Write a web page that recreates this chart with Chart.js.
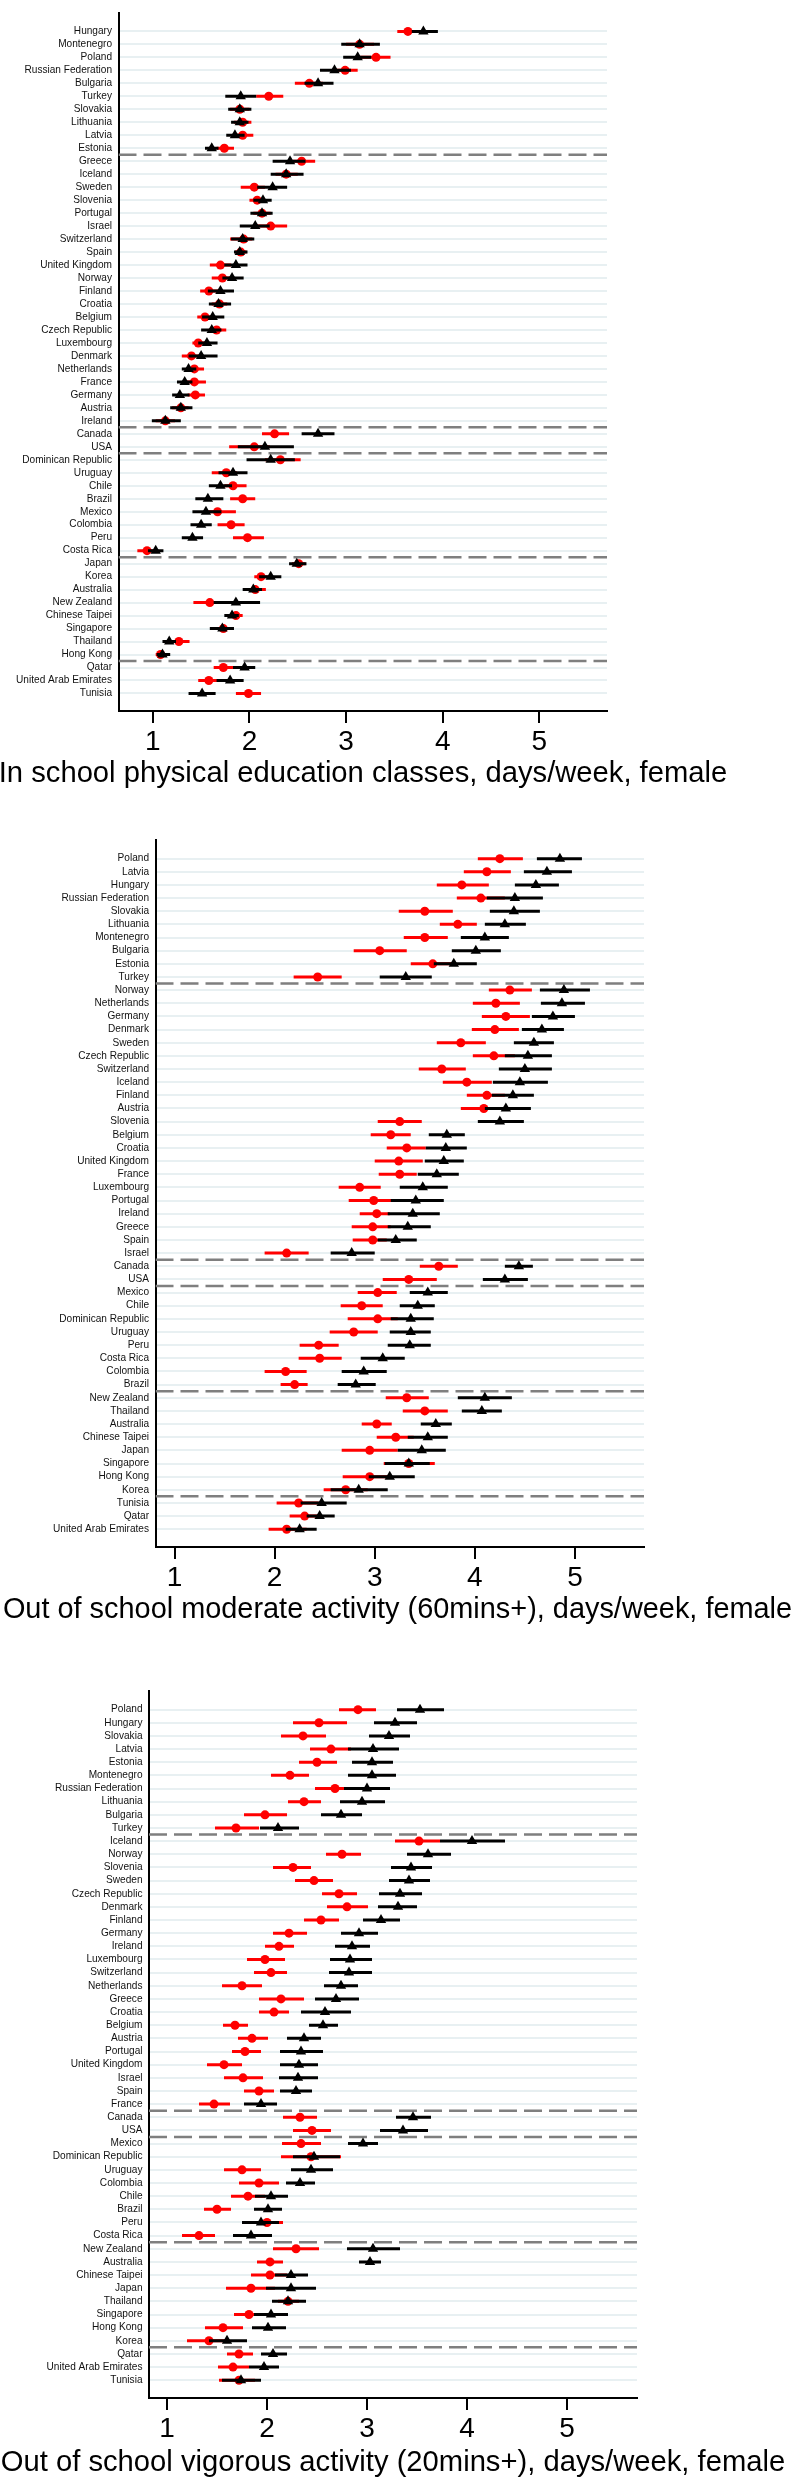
<!DOCTYPE html>
<html>
<head>
<meta charset="utf-8">
<title>Physical activity by country, female</title>
<script src="https://cdn.jsdelivr.net/npm/chart.js@4"></script>
<style>
  body { margin: 0; background: #fff; width: 795px; height: 2481px; position: relative; overflow: hidden; font-family: 'Liberation Sans', Arial, sans-serif; }
  canvas { position: absolute; left: 0; }
  .axis-title { position: absolute; width: 900px; text-align: center; white-space: nowrap; font-size: 29.2px; line-height: 34px; color: #000; }
</style>
</head>
<body>
<canvas id="peChart" width="795" height="771" style="top:0px"></canvas>
<div class="axis-title" style="top:755px; left:-87px">In school physical education classes, days/week, female</div>

<canvas id="moderateChart" width="795" height="780" style="top:827px"></canvas>
<div class="axis-title" style="top:1591px; left:-52.5px; font-size:28.9px">Out of school moderate activity (60mins+), days/week, female</div>

<canvas id="vigorousChart" width="795" height="780" style="top:1678px"></canvas>
<div class="axis-title" style="top:2444px; left:-57px">Out of school vigorous activity (20mins+), days/week, female</div>

<script>
// Region blocks (same in every panel), separated by dashed lines
const groupSizes = [10, 21, 2, 8, 8, 3];
const xTicks = [1, 2, 3, 4, 5];

// Panel 1 - in school PE
const p1Countries = ['Hungary','Montenegro','Poland','Russian Federation','Bulgaria','Turkey','Slovakia','Lithuania','Latvia','Estonia',
  'Greece','Iceland','Sweden','Slovenia','Portugal','Israel','Switzerland','Spain','United Kingdom','Norway','Finland','Croatia','Belgium',
  'Czech Republic','Luxembourg','Denmark','Netherlands','France','Germany','Austria','Ireland','Canada','USA','Dominican Republic','Uruguay',
  'Chile','Brazil','Mexico','Colombia','Peru','Costa Rica','Japan','Korea','Australia','New Zealand','Chinese Taipei','Singapore','Thailand',
  'Hong Kong','Qatar','United Arab Emirates','Tunisia'];
const p1Red = [3.64,3.14,3.31,2.99,2.62,2.20,1.90,1.93,1.93,1.74, 2.54,2.38,2.05,2.08,2.13,2.22,1.94,1.91,1.70,1.72,
  1.58,1.69,1.54,1.66,1.47,1.40,1.43,1.43,1.44,1.29, 1.13,2.26,2.05,2.32,1.76,1.83,1.93,1.67,1.81,1.98,
  0.94,2.51,2.12,2.06,1.59,1.86,1.73,1.27,1.08,1.73, 1.58,1.99];
const p1RedLo = [3.53,3.00,3.15,2.87,2.47,2.07,1.80,1.84,1.84,1.66, 2.45,2.27,1.91,2.00,2.04,2.08,1.80,1.85,1.59,1.61,
  1.49,1.61,1.46,1.58,1.41,1.30,1.35,1.33,1.36,1.20, 1.03,2.13,1.79,2.16,1.61,1.74,1.80,1.58,1.67,1.83,
  0.84,2.44,2.05,1.97,1.42,1.76,1.64,1.18,1.03,1.63, 1.47,1.86];
const p1RedHi = [3.76,3.29,3.46,3.12,2.76,2.35,2.00,2.02,2.04,1.84, 2.68,2.50,2.16,2.16,2.22,2.39,2.03,1.97,1.81,1.82,
  1.68,1.77,1.63,1.76,1.55,1.50,1.53,1.55,1.54,1.37, 1.23,2.41,2.21,2.53,1.87,1.97,2.06,1.86,1.95,2.15,
  1.02,2.58,2.19,2.17,1.79,1.93,1.81,1.38,1.14,1.84, 1.68,2.12];
const p1Black = [3.80,3.14,3.12,2.88,2.71,1.91,1.90,1.90,1.85,1.61, 2.42,2.38,2.24,2.14,2.13,2.06,1.93,1.90,1.86,1.82,
  1.70,1.68,1.62,1.61,1.56,1.50,1.37,1.33,1.28,1.29, 1.13,2.71,2.16,2.22,1.83,1.70,1.57,1.55,1.50,1.41,
  1.03,2.49,2.22,2.04,1.86,1.82,1.72,1.17,1.10,1.95, 1.80,1.51];
const p1BlackLo = [3.68,2.95,2.97,2.73,2.57,1.75,1.78,1.81,1.76,1.54, 2.24,2.22,2.08,2.04,2.01,1.90,1.81,1.84,1.74,1.72,
  1.57,1.58,1.51,1.50,1.47,1.37,1.30,1.25,1.20,1.18, 0.99,2.54,1.88,1.97,1.68,1.58,1.44,1.41,1.39,1.30,
  0.95,2.41,2.10,1.93,1.63,1.74,1.59,1.10,1.04,1.83, 1.66,1.37];
const p1BlackHi = [3.95,3.35,3.26,3.05,2.87,2.07,2.02,1.99,1.95,1.68, 2.58,2.56,2.39,2.23,2.24,2.21,2.05,1.98,1.98,1.94,
  1.84,1.81,1.74,1.71,1.67,1.67,1.45,1.41,1.38,1.41, 1.29,2.88,2.46,2.47,1.98,1.82,1.73,1.71,1.61,1.52,
  1.11,2.59,2.33,2.13,2.11,1.89,1.84,1.24,1.18,2.06, 1.94,1.65];

// Panel 2 - out of school moderate activity
const p2Countries = ['Poland','Latvia','Hungary','Russian Federation','Slovakia','Lithuania','Montenegro','Bulgaria','Estonia','Turkey',
  'Norway','Netherlands','Germany','Denmark','Sweden','Czech Republic','Switzerland','Iceland','Finland','Austria','Slovenia','Belgium',
  'Croatia','United Kingdom','France','Luxembourg','Portugal','Ireland','Greece','Spain','Israel','Canada','USA','Mexico','Chile',
  'Dominican Republic','Uruguay','Peru','Costa Rica','Colombia','Brazil','New Zealand','Thailand','Australia','Chinese Taipei','Japan',
  'Singapore','Hong Kong','Korea','Tunisia','Qatar','United Arab Emirates'];
const p2Red = [4.25,4.12,3.87,4.06,3.50,3.83,3.50,3.05,3.58,2.43, 4.35,4.21,4.31,4.20,3.86,4.19,3.67,3.92,4.12,4.09,
  3.25,3.16,3.32,3.24,3.25,2.85,2.99,3.02,2.98,2.98, 2.12,3.64,3.34,3.03,2.87,3.03,2.79,2.44,2.45,2.11,
  2.20,3.32,3.50,3.02,3.21,2.95,3.34,2.95,2.71,2.24, 2.30,2.12];
const p2RedLo = [4.03,3.89,3.62,3.82,3.24,3.65,3.29,2.79,3.36,2.19, 4.14,3.98,4.07,3.97,3.62,3.98,3.44,3.68,3.92,3.86,
  3.03,2.96,3.12,3.00,3.04,2.64,2.74,2.85,2.77,2.78, 1.90,3.45,3.08,2.83,2.66,2.73,2.55,2.25,2.24,1.90,
  2.06,3.11,3.28,2.87,3.02,2.67,3.09,2.68,2.49,2.02, 2.15,1.94];
const p2RedHi = [4.48,4.36,4.14,4.30,3.78,4.02,3.73,3.32,3.78,2.67, 4.57,4.45,4.55,4.44,4.11,4.40,3.91,4.17,4.30,4.30,
  3.47,3.36,3.51,3.48,3.42,3.06,3.18,3.15,3.16,3.12, 2.34,3.83,3.62,3.22,3.08,3.23,3.03,2.64,2.67,2.32,
  2.33,3.54,3.73,3.17,3.39,3.23,3.60,3.16,2.93,2.44, 2.45,2.32];
const p2Black = [4.85,4.72,4.61,4.40,4.39,4.30,4.10,4.01,3.79,3.31, 4.89,4.87,4.78,4.67,4.59,4.53,4.50,4.45,4.38,4.31,
  4.25,3.72,3.71,3.69,3.62,3.48,3.41,3.38,3.33,3.21, 2.77,4.44,4.30,3.53,3.43,3.36,3.36,3.35,3.08,2.89,
  2.81,4.10,4.07,3.61,3.53,3.47,3.34,3.15,2.84,2.47, 2.45,2.25];
const p2BlackLo = [4.62,4.49,4.40,4.12,4.15,4.10,3.86,3.77,3.59,3.05, 4.65,4.66,4.57,4.47,4.39,4.30,4.24,4.18,4.17,4.10,
  4.03,3.54,3.51,3.50,3.43,3.25,3.16,3.13,3.13,3.03, 2.56,4.30,4.08,3.35,3.25,3.16,3.15,3.13,2.86,2.67,
  2.63,3.83,3.87,3.46,3.33,3.23,3.10,2.94,2.56,2.26, 2.32,2.11];
const p2BlackHi = [5.07,4.97,4.84,4.68,4.65,4.51,4.34,4.26,4.02,3.57, 5.15,5.10,5.00,4.89,4.79,4.77,4.77,4.73,4.59,4.56,
  4.49,3.90,3.92,3.89,3.84,3.73,3.69,3.65,3.56,3.42, 3.00,4.58,4.53,3.73,3.60,3.59,3.56,3.56,3.30,3.12,
  3.01,4.37,4.27,3.77,3.73,3.71,3.55,3.40,3.13,2.72, 2.60,2.42];

// Panel 3 - out of school vigorous activity
const p3Countries = ['Poland','Hungary','Slovakia','Latvia','Estonia','Montenegro','Russian Federation','Lithuania','Bulgaria','Turkey',
  'Iceland','Norway','Slovenia','Sweden','Czech Republic','Denmark','Finland','Germany','Ireland','Luxembourg','Switzerland','Netherlands',
  'Greece','Croatia','Belgium','Austria','Portugal','United Kingdom','Israel','Spain','France','Canada','USA','Mexico','Dominican Republic',
  'Uruguay','Colombia','Chile','Brazil','Peru','Costa Rica','New Zealand','Australia','Chinese Taipei','Japan','Thailand','Singapore',
  'Hong Kong','Korea','Qatar','United Arab Emirates','Tunisia'];
const p3Red = [2.91,2.52,2.36,2.64,2.50,2.23,2.68,2.37,1.98,1.69, 3.52,2.75,2.26,2.47,2.72,2.80,2.54,2.22,2.12,1.98,
  2.04,1.75,2.14,2.07,1.68,1.85,1.78,1.57,1.76,1.92, 1.47,2.33,2.45,2.34,2.44,1.75,1.92,1.81,1.50,2.00,
  1.32,2.29,2.03,2.03,1.84,2.21,1.82,1.56,1.42,1.72, 1.66,1.72];
const p3RedLo = [2.72,2.26,2.14,2.43,2.32,2.04,2.48,2.21,1.77,1.48, 3.28,2.59,2.06,2.28,2.55,2.60,2.37,2.06,1.98,1.80,
  1.87,1.55,1.92,1.92,1.56,1.71,1.65,1.40,1.57,1.77, 1.32,2.16,2.26,2.15,2.14,1.57,1.72,1.64,1.37,1.87,
  1.15,2.06,1.90,1.84,1.59,2.11,1.67,1.38,1.20,1.60, 1.51,1.52];
const p3RedHi = [3.09,2.80,2.59,2.84,2.70,2.42,2.82,2.54,2.20,1.92, 3.73,2.94,2.44,2.66,2.90,3.01,2.72,2.40,2.27,2.18,
  2.20,1.95,2.37,2.22,1.81,2.01,1.94,1.75,1.96,2.07, 1.63,2.50,2.64,2.54,2.74,1.94,2.12,1.98,1.64,2.16,
  1.48,2.52,2.16,2.20,2.08,2.32,1.98,1.76,1.62,1.86, 1.82,1.88];
const p3Black = [3.53,3.28,3.22,3.06,3.05,3.05,3.00,2.95,2.74,2.11, 4.05,3.61,3.44,3.42,3.33,3.31,3.14,2.92,2.85,2.83,
  2.82,2.74,2.69,2.58,2.56,2.37,2.34,2.32,2.31,2.29, 1.94,3.46,3.36,2.96,2.47,2.44,2.33,2.04,2.01,1.94,
  1.84,3.06,3.03,2.24,2.24,2.21,2.04,2.01,1.60,2.06, 1.97,1.74];
const p3BlackLo = [3.30,3.07,3.02,2.81,2.85,2.81,2.77,2.73,2.54,1.93, 3.73,3.40,3.24,3.22,3.12,3.11,2.96,2.74,2.68,2.63,
  2.62,2.57,2.48,2.34,2.42,2.20,2.13,2.13,2.12,2.13, 1.77,3.29,3.13,2.81,2.26,2.24,2.19,1.88,1.87,1.75,
  1.66,2.80,2.92,2.08,1.99,2.05,1.87,1.85,1.42,1.94, 1.82,1.55];
const p3BlackHi = [3.77,3.50,3.43,3.32,3.26,3.29,3.23,3.18,2.95,2.32, 4.38,3.84,3.65,3.63,3.55,3.50,3.33,3.11,3.03,3.05,
  3.05,2.91,2.92,2.84,2.71,2.54,2.56,2.51,2.51,2.45, 2.10,3.64,3.61,3.11,2.73,2.66,2.48,2.21,2.15,2.12,
  2.05,3.33,3.14,2.41,2.49,2.39,2.21,2.19,1.80,2.20, 2.12,1.94];

const RED = '#ff0000';
const BLACK = '#000000';
const FONT = "'Liberation Sans', Arial, sans-serif";

document.addEventListener('DOMContentLoaded', function() {
  Chart.defaults.font.family = FONT;

  buildPanel({ id: 'peChart', countries: p1Countries,
    red: p1Red, redLo: p1RedLo, redHi: p1RedHi, black: p1Black, blackLo: p1BlackLo, blackHi: p1BlackHi,
    xMin: 0.645, xMax: 5.70, yWidth: 118.5, padTop: 2, padRight: 188 });

  buildPanel({ id: 'moderateChart', countries: p2Countries,
    red: p2Red, redLo: p2RedLo, redHi: p2RedHi, black: p2Black, blackLo: p2BlackLo, blackHi: p2BlackHi,
    xMin: 0.81, xMax: 5.69, yWidth: 155.5, padTop: 10, padRight: 151 });

  buildPanel({ id: 'vigorousChart', countries: p3Countries,
    red: p3Red, redLo: p3RedLo, redHi: p3RedHi, black: p3Black, blackLo: p3BlackLo, blackHi: p3BlackHi,
    xMin: 0.82, xMax: 5.70, yWidth: 149, padTop: 10, padRight: 158 });
});

// One dot plot with interval bars
function buildPanel(p) {
  const ctx = document.getElementById(p.id).getContext('2d');
  const rows = p.countries.map((c, i) => i);
  const datasets = [];

  // dashed lines between region blocks
  let cum = 0;
  groupSizes.slice(0, -1).forEach(n => {
    cum += n;
    datasets.push({
      type: 'line',
      data: [{ x: p.xMin, y: cum - 0.5 }, { x: p.xMax, y: cum - 0.5 }],
      borderColor: '#7f7f7f',
      borderWidth: 2.5,
      borderDash: [18, 7],
      pointRadius: 0,
      order: 5
    });
  });

  datasets.push({
    type: 'bar',
    grouped: false,
    maxBarThickness: 3,
    data: rows.map(i => ({ y: i, x: [p.redLo[i], p.redHi[i]] })),
    backgroundColor: RED,
    order: 4
  });
  datasets.push({
    type: 'scatter',
    data: rows.map(i => ({ x: p.red[i], y: i })),
    pointStyle: 'circle',
    pointRadius: 4.5,
    pointBackgroundColor: RED,
    pointBorderWidth: 0,
    order: 3
  });
  datasets.push({
    type: 'bar',
    grouped: false,
    maxBarThickness: 3,
    data: rows.map(i => ({ y: i, x: [p.blackLo[i], p.blackHi[i]] })),
    backgroundColor: BLACK,
    order: 2
  });
  datasets.push({
    type: 'scatter',
    data: rows.map(i => ({ x: p.black[i], y: i })),
    pointStyle: 'triangle',
    pointRadius: 6,
    pointBackgroundColor: BLACK,
    pointBorderWidth: 0,
    order: 1
  });

  new Chart(ctx, {
    type: 'bar',
    data: { datasets: datasets },
    options: {
      responsive: false,
      animation: false,
      indexAxis: 'y',
      events: [],
      layout: { padding: { top: p.padTop, right: p.padRight, bottom: 0, left: 0 } },
      plugins: {
        legend: { display: false },
        tooltip: { enabled: false }
      },
      scales: {
        x: {
          type: 'linear',
          min: p.xMin,
          max: p.xMax,
          afterBuildTicks: s => { s.ticks = xTicks.map(v => ({ value: v })); },
          afterFit: s => { s.height = 60; },
          ticks: { color: '#000', padding: 2, font: { size: 28 } },
          grid: { drawOnChartArea: false, drawTicks: true, tickLength: 12, color: '#000', lineWidth: 2 },
          border: { display: true, color: '#000', width: 2 }
        },
        y: {
          type: 'linear',
          reverse: true,
          offset: false,
          min: -1.45,
          max: 52.35,
          afterBuildTicks: s => { s.ticks = rows.map(i => ({ value: i })); },
          afterFit: s => { s.width = p.yWidth; },
          ticks: {
            autoSkip: false,
            padding: 6.5,
            color: '#111',
            font: { size: 10.1 },
            callback: v => p.countries[v]
          },
          grid: { offset: false, drawTicks: false, color: '#e8f0f2', lineWidth: 2 },
          border: { display: true, color: '#000', width: 2 }
        }
      }
    }
  });
}
</script>
</body>
</html>
